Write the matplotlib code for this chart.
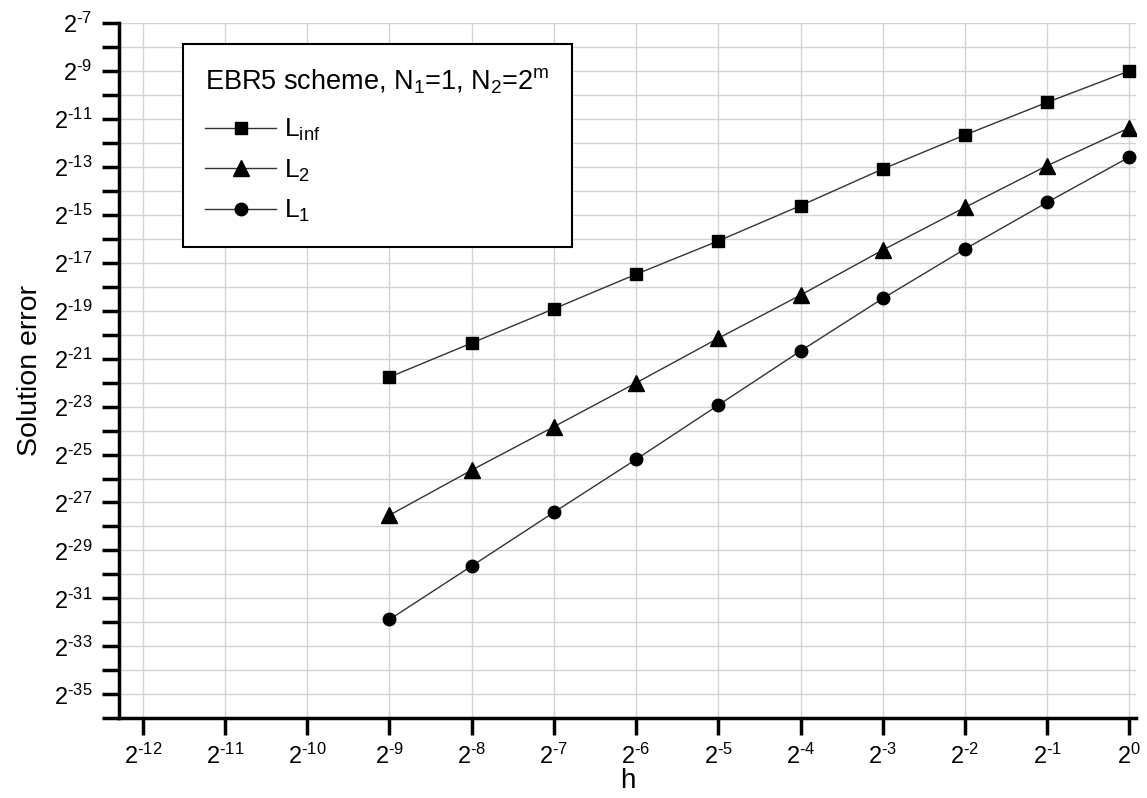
import numpy as np
import matplotlib
matplotlib.use("Agg")
import matplotlib.pyplot as plt
from matplotlib.ticker import FixedLocator, FuncFormatter, NullFormatter

plt.rcParams['font.family'] = ['Liberation Sans', 'DejaVu Sans']
plt.rcParams['mathtext.fontset'] = 'custom'
plt.rcParams['mathtext.rm'] = 'Liberation Sans'
plt.rcParams['mathtext.it'] = 'Liberation Sans'
plt.rcParams['mathtext.bf'] = 'Liberation Sans:bold'

# exponents of 2
h_exp = [-9, -8, -7, -6, -5, -4, -3, -2, -1, 0]
linf_exp = [-21.77, -20.35, -18.92, -17.48, -16.09, -14.62, -13.09, -11.67, -10.31, -9.0]
l2_exp = [-27.53, -25.65, -23.84, -22.01, -20.15, -18.35, -16.47, -14.69, -12.95, -11.37]
l1_exp = [-31.88, -29.65, -27.41, -25.20, -22.94, -20.68, -18.49, -16.43, -14.48, -12.59]

x_major = list(range(-12, 1))
y_major = list(range(-35, -6, 2))
y_minor = list(range(-36, -7, 2))

h = 2.0 ** np.array(h_exp)

fig = plt.figure(figsize=(11.47, 7.98), dpi=100)
ax = fig.add_axes([0.1037, 0.0999, 0.8867, 0.8713])

ax.plot(h, 2.0 ** np.array(linf_exp), color='#333333', lw=1, marker='s', ms=8.2,
        mfc='black', mec='black', label='L$_{inf}$', zorder=3)
ax.plot(h, 2.0 ** np.array(l2_exp), color='#333333', lw=1, marker='^', ms=12,
        mfc='black', mec='black', label='L$_2$', zorder=3)
ax.plot(h, 2.0 ** np.array(l1_exp), color='#333333', lw=1, marker='o', ms=9,
        mfc='black', mec='black', label='L$_1$', zorder=3)

ax.set_xscale('log', base=2)
ax.set_yscale('log', base=2)
ax.set_xlim(2.0 ** -12.29, 2.0 ** 0.08)
ax.set_ylim(2.0 ** -36, 2.0 ** -7)

ax.xaxis.set_major_locator(FixedLocator([2.0 ** e for e in x_major]))
ax.xaxis.set_minor_locator(FixedLocator([]))
ax.yaxis.set_major_locator(FixedLocator([2.0 ** e for e in y_major]))
ax.yaxis.set_minor_locator(FixedLocator([2.0 ** e for e in y_minor]))

fmt = FuncFormatter(lambda v, p: '$2^{\u2010%d}$' % abs(int(round(np.log2(v))))
                    if v < 1 else '$2^{0}$')
ax.xaxis.set_major_formatter(fmt)
ax.yaxis.set_major_formatter(fmt)
ax.xaxis.set_minor_formatter(NullFormatter())
ax.yaxis.set_minor_formatter(NullFormatter())

ax.tick_params(axis='both', which='both', direction='out', length=12, width=2.5,
               labelsize=17, color='black')
ax.tick_params(axis='x', pad=6)
ax.tick_params(axis='y', pad=7)

ax.grid(True, which='both', color='#d3d3d3', lw=1)
ax.set_axisbelow(True)

for s in ['top', 'right']:
    ax.spines[s].set_visible(False)
for s in ['left', 'bottom']:
    ax.spines[s].set_linewidth(2.5)

ax.set_xlabel('h', fontsize=20, labelpad=0)
ax.set_ylabel('Solution error', fontsize=20.5, labelpad=8)

leg = ax.legend(loc='upper left', bbox_to_anchor=(0.0626, 0.9698),
                title='EBR5 scheme, N$_1$=1, N$_2$=2$^m$', title_fontsize=19.5,
                fontsize=19, fancybox=False, framealpha=1, edgecolor='black',
                handlelength=2.7, handletextpad=0.3, labelspacing=0.55,
                borderpad=0.85, borderaxespad=0)
leg._legend_box.align = 'left'
leg._legend_box.sep = 15
leg.get_frame().set_linewidth(1.5)

fig.savefig('out.png', dpi=100)
